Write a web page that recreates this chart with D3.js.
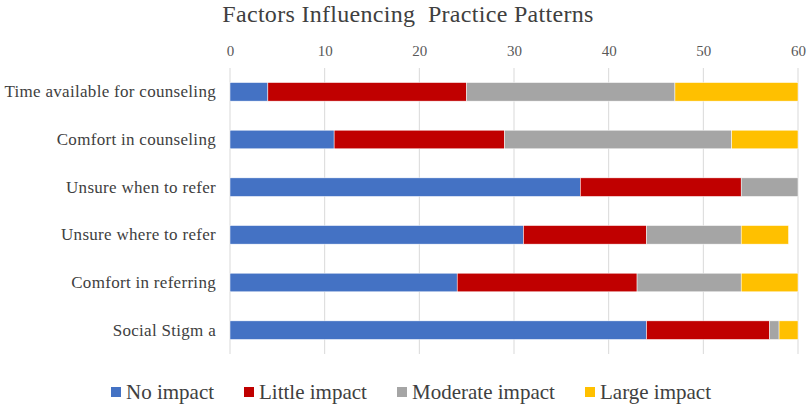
<!DOCTYPE html>
<html>
<head>
<meta charset="utf-8">
<script src="https://cdn.jsdelivr.net/npm/d3@7"></script>
<style>
  body { margin: 0; background: #fff; }
  text { font-family: "Liberation Serif", "Times New Roman", serif; }
</style>
</head>
<body>
<div id="container"></div>
<script>
/* DATA */
const categories = [
  "Time available for counseling",
  "Comfort in counseling",
  "Unsure when to refer",
  "Unsure where to refer",
  "Comfort in referring",
  "Social Stigm a"
];
const seriesNames = ["No impact", "Little impact", "Moderate impact", "Large impact"];
const noImpact = [4, 11, 37, 31, 24, 44];
const littleImpact = [21, 18, 17, 13, 19, 13];
const moderateImpact = [22, 24, 6, 10, 11, 1];
const largeImpact = [13, 7, 0, 5, 6, 2];
const tickValues = [0, 10, 20, 30, 40, 50, 60];

/* CONSTANTS */
const width = 810;
const height = 407;
const colors = ["#4472C4", "#C00000", "#A5A5A5", "#FFC000"];

const rows = categories.map((c, i) => ({
  category: c,
  "No impact": noImpact[i],
  "Little impact": littleImpact[i],
  "Moderate impact": moderateImpact[i],
  "Large impact": largeImpact[i]
}));

const svg = d3.select("#container")
  .append("svg")
  .attr("width", width)
  .attr("height", height);

const xScale = d3.scaleLinear()
  .domain([0, 60])
  .range([230, 798]);

const yScale = d3.scaleBand()
  .domain(categories)
  .range([68, 354])
  .paddingInner(0.61)
  .paddingOuter(0.305);

const color = d3.scaleOrdinal()
  .domain(seriesNames)
  .range(colors);

// title
svg.append("text")
  .attr("x", 408)
  .attr("y", 22)
  .attr("text-anchor", "middle")
  .attr("fill", "#404040")
  .style("font-size", "24px")
  .style("letter-spacing", "0.3px")
  .style("white-space", "pre")
  .text("Factors Influencing  Practice Patterns");

// gridlines
svg.append("g")
  .selectAll("line")
  .data(tickValues)
  .join("line")
  .attr("x1", d => xScale(d))
  .attr("x2", d => xScale(d))
  .attr("y1", 68)
  .attr("y2", 354)
  .attr("stroke", "#D9D9D9")
  .attr("stroke-width", 1);

// top axis
const xAxis = d3.axisTop(xScale).tickValues(tickValues).tickSize(0).tickPadding(0);
svg.append("g")
  .attr("transform", "translate(0, 56)")
  .call(xAxis)
  .call(g => g.select(".domain").remove())
  .call(g => g.selectAll("text")
    .attr("fill", "#595959")
    .style("font-size", "15px")
    .style("font-family", "'Liberation Serif', serif"));

// left axis labels
const yAxis = d3.axisLeft(yScale).tickSize(0).tickPadding(14);
svg.append("g")
  .attr("transform", "translate(230, 0)")
  .call(yAxis)
  .call(g => g.select(".domain").remove())
  .call(g => g.selectAll("text")
    .attr("fill", "#404040")
    .style("font-size", "17px")
    .style("letter-spacing", "0.3px")
    .style("font-family", "'Liberation Serif', serif"));

// stacked bars
const stacked = d3.stack().keys(seriesNames)(rows);

svg.append("g")
  .selectAll("g")
  .data(stacked)
  .join("g")
  .attr("fill", d => color(d.key))
  .selectAll("rect")
  .data(d => d)
  .join("rect")
  .attr("x", d => xScale(d[0]))
  .attr("y", d => yScale(d.data.category))
  .attr("width", d => xScale(d[1]) - xScale(d[0]))
  .attr("height", yScale.bandwidth())
  .attr("stroke", "#fff")
  .attr("stroke-width", 0.5);

// legend
const legendX = [111, 244, 397, 585];
const legend = svg.append("g")
  .selectAll("g")
  .data(seriesNames)
  .join("g")
  .attr("transform", (d, i) => `translate(${legendX[i]}, 392)`);

legend.append("rect")
  .attr("x", 0)
  .attr("y", -5)
  .attr("width", 10)
  .attr("height", 10)
  .attr("fill", d => color(d));

legend.append("text")
  .attr("x", 15)
  .attr("y", 7)
  .attr("fill", "#404040")
  .style("font-size", "21px")
  .text(d => d);
</script>
</body>
</html>
